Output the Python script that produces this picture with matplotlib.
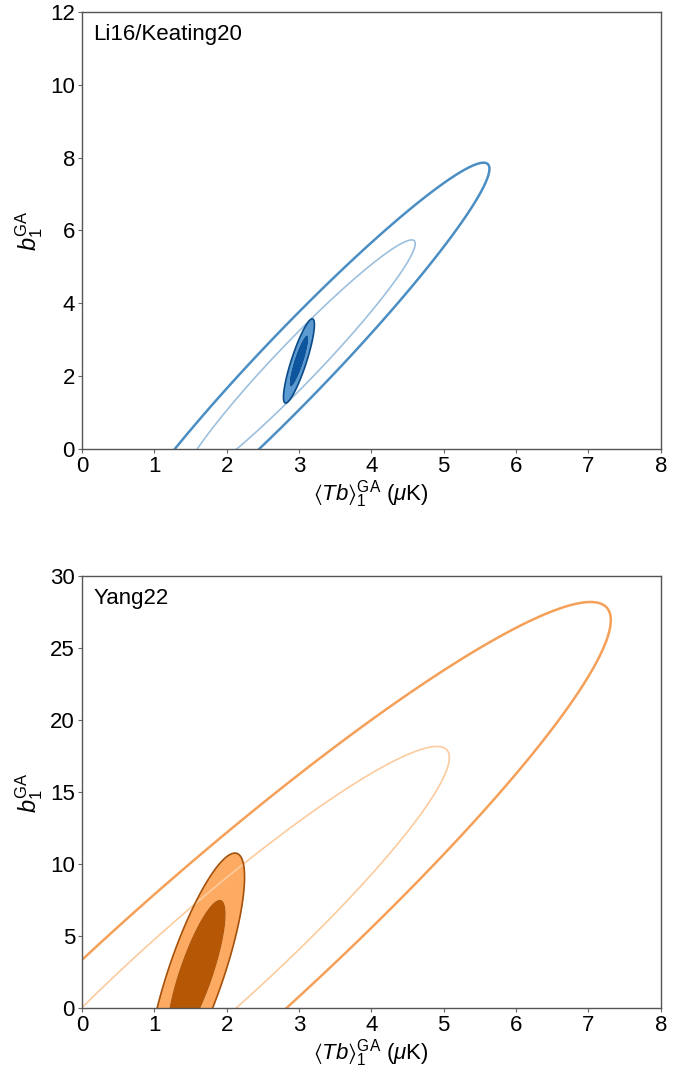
"""Fisher forecast ellipses for <Tb>_1^GA and b_1^GA, two models."""

import matplotlib

matplotlib.use("Agg")
import matplotlib.pyplot as plt
import numpy as np

plt.rcParams["font.family"] = ["Liberation Sans", "DejaVu Sans"]
plt.rcParams["mathtext.fontset"] = "custom"
plt.rcParams["mathtext.rm"] = "Liberation Sans"
plt.rcParams["mathtext.it"] = "Liberation Sans:italic"
plt.rcParams["mathtext.fallback"] = "stixsans"

# Gaussian forecasts: centre, marginal sigmas, correlation
models = ["Li16/Keating20", "Yang22"]
center_x = [3.0, 1.58]
center_y = [2.42, 2.45]
# wide forecast (lines)
wide_sx = [1.06, 2.307]
wide_sy = [2.19, 10.37]
wide_rho = [0.969, 0.951]
# tight forecast (filled)
tight_sx = [0.086, 0.269]
tight_sy = [0.465, 3.35]
tight_rho = [0.86, 0.80]

ylims = [12, 30]
yticks = [np.arange(0, 13, 2), np.arange(0, 31, 5)]

DCHI2 = [2.30, 6.17]  # 1 and 2 sigma, 2 parameters

line_cols = [("#9cc0de", "#4b8ec4"), ("#fccb9e", "#f5a059")]
fill_cols = [("#0d569e", "#5a9bd2"), ("#b55705", "#fdab63")]
edge_cols = ["#0b4b88", "#a5510b"]


def chi2(x, y, x0, y0, sx, sy, rho):
    dx = (x - x0) / sx
    dy = (y - y0) / sy
    return (dx**2 - 2 * rho * dx * dy + dy**2) / (1 - rho**2)


def grid(x0, y0, sx, sy, n=800):
    xs = np.linspace(x0 - 3.2 * sx, x0 + 3.2 * sx, n)
    ys = np.linspace(y0 - 3.2 * sy, y0 + 3.2 * sy, n)
    return np.meshgrid(xs, ys)


fig = plt.figure(figsize=(6.94, 10.72), dpi=100)
boxes = [[0.118, 0.581, 0.834, 0.408], [0.118, 0.0595, 0.834, 0.403]]

for i, name in enumerate(models):
    ax = fig.add_axes(boxes[i])

    X, Y = grid(center_x[i], center_y[i], wide_sx[i], wide_sy[i])
    cw = chi2(X, Y, center_x[i], center_y[i], wide_sx[i], wide_sy[i], wide_rho[i])
    ax.contour(X, Y, cw, levels=[DCHI2[0]], colors=[line_cols[i][0]], linewidths=1.2)
    ax.contour(X, Y, cw, levels=[DCHI2[1]], colors=[line_cols[i][1]], linewidths=1.8)

    X, Y = grid(center_x[i], center_y[i], tight_sx[i], tight_sy[i])
    ct = chi2(X, Y, center_x[i], center_y[i], tight_sx[i], tight_sy[i], tight_rho[i])
    ax.contourf(X, Y, ct, levels=[DCHI2[0], DCHI2[1]], colors=[fill_cols[i][1]],
                antialiased=True)
    ax.contourf(X, Y, ct, levels=[0, DCHI2[0]], colors=[fill_cols[i][0]],
                antialiased=True)
    ax.contour(X, Y, ct, levels=[DCHI2[1]], colors=[edge_cols[i]], linewidths=1.2)

    ax.set_xlim(0, 8)
    ax.set_ylim(0, ylims[i])
    ax.set_xticks(range(0, 9))
    ax.set_yticks(yticks[i])
    ax.tick_params(labelsize=16, length=3, color="#666", pad=2)
    for s in ax.spines.values():
        s.set_color("#555")
        s.set_linewidth(1.0)
    ax.set_xlabel(r"$\langle Tb\rangle_1^{\rm GA}$ ($\mu$K)", fontsize=16, labelpad=1)
    ax.set_ylabel(r"$b_1^{\rm GA}$", fontsize=17, labelpad=4)
    ax.text(0.02, 0.972, name, transform=ax.transAxes, fontsize=16,
            va="top", ha="left")

fig.savefig("out.png", dpi=100)
